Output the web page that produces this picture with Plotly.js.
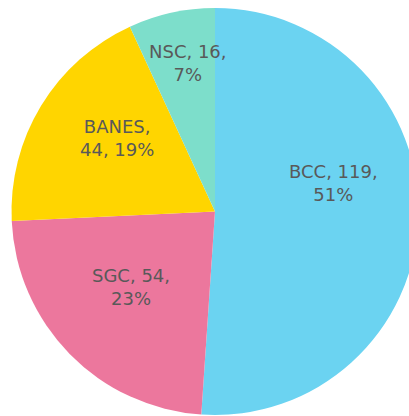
<!DOCTYPE html>
<html>
<head>
<meta charset="utf-8">
<script src="https://cdn.plot.ly/plotly-3.0.1.min.js"></script>
<style>
html, body { margin: 0; padding: 0; overflow: hidden; background: #fff; width: 409px; height: 416px; }
#chart { width: 430px; height: 416px; }
</style>
</head>
<body>
<div id="chart"></div>
<script>
// Data
const labels = ["BCC", "SGC", "BANES", "NSC"];
const values = [119, 54, 44, 16];

// Style / label placement settings
const colors = ["#6BD3F1", "#EC779D", "#FFD500", "#7DDECB"];
const breakAfterLabel = [false, false, true, false];
const labelRadius = [0.60, 0.557, 0.605, 0.74];
const labelAngleShift = [-15.4, 2.6, 5.6, 2.1];

const W = 430, H = 416;
const margin = { l: 0, r: 0, t: 8, b: 1 };
const plotW = W - margin.l - margin.r;
const plotH = H - margin.t - margin.b;
const R = Math.min(plotW, plotH) / 2;

const total = values.reduce((a, b) => a + b, 0);
const annotations = [];
let cum = 0;
values.forEach((v, i) => {
  const frac = v / total;
  const mid = (cum + frac / 2) * 360 + labelAngleShift[i];
  cum += frac;
  const rad = mid * Math.PI / 180;
  const r = labelRadius[i] * R;
  const dx = r * Math.sin(rad);
  const dy = r * Math.cos(rad);
  const pct = Math.round(frac * 100) + "%";
  const text = breakAfterLabel[i]
    ? labels[i] + ",<br>" + v + ", " + pct
    : labels[i] + ", " + v + ",<br>" + pct;
  annotations.push({
    xref: "paper", yref: "paper",
    x: 0.5 + dx / plotW,
    y: 0.5 + dy / plotH,
    text: text,
    showarrow: false,
    xanchor: "center", yanchor: "middle",
    align: "center",
    font: { family: "DejaVu Sans", size: 18, color: "#595959" }
  });
});

Plotly.newPlot("chart", [{
  type: "pie",
  labels: labels,
  values: values,
  sort: false,
  direction: "clockwise",
  rotation: 0,
  marker: { colors: colors, line: { width: 0 } },
  textinfo: "none",
  hoverinfo: "label+value+percent",
  showlegend: false
}], {
  width: W,
  height: H,
  margin: Object.assign({ pad: 0 }, margin),
  paper_bgcolor: "#ffffff",
  showlegend: false,
  annotations: annotations
}, { displayModeBar: false, staticPlot: true });
</script>
</body>
</html>
